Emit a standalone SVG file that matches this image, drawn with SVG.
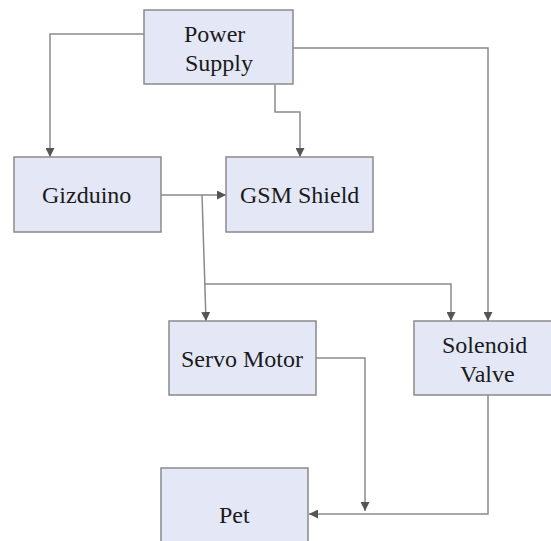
<svg xmlns="http://www.w3.org/2000/svg" width="551" height="541" viewBox="0 0 551 541">
<style>
.box{fill:#e4e8f6;stroke:#8a8a8a;stroke-width:1.5}
.c{fill:none;stroke:#8a8a8a;stroke-width:1.5}
</style>
<defs>
<marker id="ah" viewBox="0 0 10 10" refX="10" refY="5" markerWidth="9" markerHeight="9" markerUnits="userSpaceOnUse" orient="auto">
<path d="M0,0 L10,5 L0,10 Z" fill="#555"/>
</marker>
</defs>
<rect width="551" height="541" fill="#fff"/>
<g id="connectors">
<path class="c" d="M144,34 H50 V157" marker-end="url(#ah)"/>
<path class="c" d="M275,85 V112 H300 V157" marker-end="url(#ah)"/>
<path class="c" d="M293,48 H488 V321" marker-end="url(#ah)"/>
<path class="c" d="M161,195 H226" marker-end="url(#ah)"/>
<path class="c" d="M202,195 L206,321" marker-end="url(#ah)"/>
<path class="c" d="M204,284 H451 V321" marker-end="url(#ah)"/>
<path class="c" d="M316,358 H365 V511" marker-end="url(#ah)"/>
<path class="c" d="M488,395 V514 H309" marker-end="url(#ah)"/>
</g>
<g fill="#1a1a1a">
<g id="power-supply">
<rect class="box" x="144" y="10" width="149" height="74"/>
<text font-family="Liberation Serif" font-size="24" x="184" y="42">Power</text>
<text font-family="Liberation Serif" font-size="24" x="185" y="71">Supply</text>
</g>
<g id="gizduino">
<rect class="box" x="14" y="157" width="147" height="75"/>
<text font-family="Liberation Serif" font-size="24" x="42" y="203">Gizduino</text>
</g>
<g id="gsm-shield">
<rect class="box" x="226" y="157" width="147" height="75"/>
<text font-family="Liberation Serif" font-size="24" x="240" y="203">GSM Shield</text>
</g>
<g id="servo-motor">
<rect class="box" x="169" y="321" width="147" height="74"/>
<text font-family="Liberation Serif" font-size="24" x="181" y="367">Servo Motor</text>
</g>
<g id="solenoid-valve">
<rect class="box" x="414" y="321" width="150" height="74"/>
<text font-family="Liberation Serif" font-size="24" x="442" y="353">Solenoid</text>
<text font-family="Liberation Serif" font-size="24" x="460" y="382">Valve</text>
</g>
<g id="pet">
<rect class="box" x="161" y="468" width="147" height="80"/>
<text font-family="Liberation Serif" font-size="24" x="219" y="523">Pet</text>
</g>
</g>
</svg>
